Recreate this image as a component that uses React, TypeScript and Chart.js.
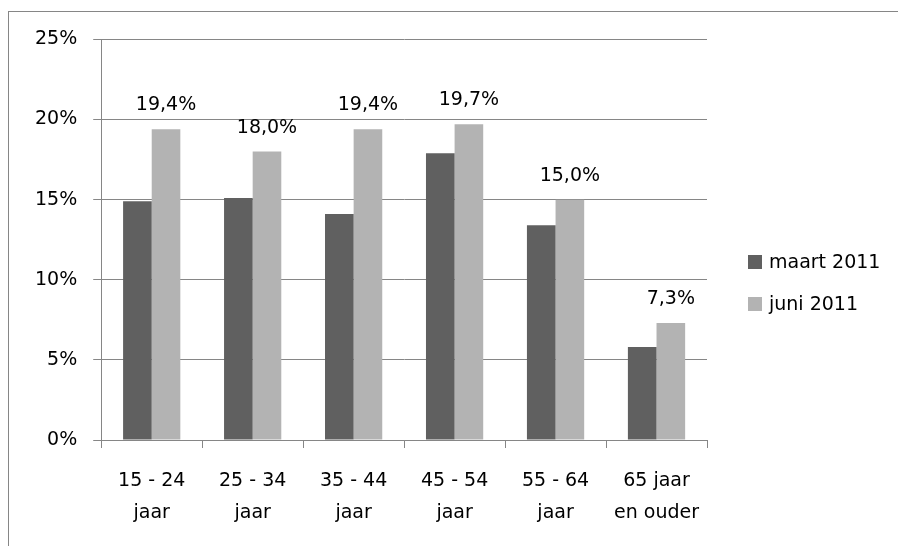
import React, { useEffect, useRef } from 'react';
import { Chart, registerables } from 'chart.js';

Chart.register(...registerables);

const categories: string[][] = [
  ['15 - 24', 'jaar'],
  ['25 - 34', 'jaar'],
  ['35 - 44', 'jaar'],
  ['45 - 54', 'jaar'],
  ['55 - 64', 'jaar'],
  ['65 jaar', 'en ouder'],
];
const seriesNames = ['maart 2011', 'juni 2011'];
const maart = [14.9, 15.1, 14.1, 17.9, 13.4, 5.8];
const juni = [19.4, 18.0, 19.4, 19.7, 15.0, 7.3];
const yMin = 0;
const yMax = 25;
const yStep = 5;

const FONT = '"DejaVu Sans"';
const FONT_SIZE = 19;
const GRID = '#868686';
const COLORS = ['#606060', '#b3b3b3'];

const fmt = (v: number) => v.toFixed(1).replace('.', ',') + '%';

const valueLabels = {
  id: 'valueLabels',
  afterDatasetsDraw(chart: any) {
    const meta = chart.getDatasetMeta(1);
    const ctx = chart.ctx;
    ctx.save();
    ctx.font = `${FONT_SIZE}px ${FONT}`;
    ctx.fillStyle = '#000';
    ctx.textAlign = 'center';
    ctx.textBaseline = 'alphabetic';
    meta.data.forEach((bar: any, i: number) => {
      ctx.fillText(fmt(juni[i]), bar.x, bar.y - 19);
    });
    ctx.restore();
  },
};

const sideLegend = {
  id: 'sideLegend',
  afterDraw(chart: any) {
    const { ctx, chartArea } = chart;
    const x = chartArea.right + 41;
    ctx.save();
    ctx.font = `${FONT_SIZE}px ${FONT}`;
    chart.data.datasets.forEach((ds: any, i: number) => {
      const cy = chart.height / 2 - 17 + i * 42;
      ctx.fillStyle = ds.backgroundColor;
      ctx.fillRect(x, cy - 7, 14, 14);
      ctx.fillStyle = '#000';
      ctx.textAlign = 'left';
      ctx.textBaseline = 'middle';
      ctx.fillText(ds.label, x + 21, cy + 1);
    });
    ctx.restore();
  },
};

export default function App() {
  const ref = useRef<HTMLCanvasElement | null>(null);

  useEffect(() => {
    if (!ref.current) return;
    Chart.defaults.font.family = FONT;
    Chart.defaults.font.size = FONT_SIZE;
    Chart.defaults.color = '#000';
    const chart = new Chart(ref.current, {
      type: 'bar',
      data: {
        labels: categories,
        datasets: [
          {
            label: seriesNames[0],
            data: maart,
            backgroundColor: COLORS[0],
            borderWidth: 0,
            barPercentage: 1,
            categoryPercentage: 0.567,
          },
          {
            label: seriesNames[1],
            data: juni,
            backgroundColor: COLORS[1],
            borderWidth: 0,
            barPercentage: 1,
            categoryPercentage: 0.567,
          },
        ],
      },
      options: {
        responsive: false,
        animation: false,
        layout: { padding: { left: 10, top: 27, right: 191, bottom: 0 } },
        plugins: {
          legend: { display: false },
          tooltip: { enabled: false },
        },
        scales: {
          x: {
            offset: true,
            grid: {
              offset: true,
              drawOnChartArea: false,
              drawTicks: true,
              tickLength: 8,
              color: GRID,
            },
            border: { display: true, color: GRID },
            ticks: {
              padding: 17,
              maxRotation: 0,
              autoSkip: false,
              font: { family: FONT, size: FONT_SIZE, lineHeight: '32px' },
              color: '#000',
            },
          },
          y: {
            min: yMin,
            max: yMax,
            grid: { color: GRID, tickLength: 8, drawTicks: true },
            border: { display: true, color: GRID },
            ticks: {
              stepSize: yStep,
              padding: 16,
              callback: (v: any) => `${v}%`,
              font: { family: FONT, size: FONT_SIZE },
              color: '#000',
            },
          },
        },
      },
      plugins: [valueLabels, sideLegend],
    });
    return () => chart.destroy();
  }, []);

  return (
    <div
      style={{
        position: 'absolute',
        left: 8,
        top: 11,
        width: 890,
        height: 535,
        borderTop: `1px solid ${GRID}`,
        borderLeft: `1px solid ${GRID}`,
        boxSizing: 'border-box',
        background: '#fff',
      }}
    >
      <canvas ref={ref} width={889} height={534} style={{ display: 'block' }} />
    </div>
  );
}
